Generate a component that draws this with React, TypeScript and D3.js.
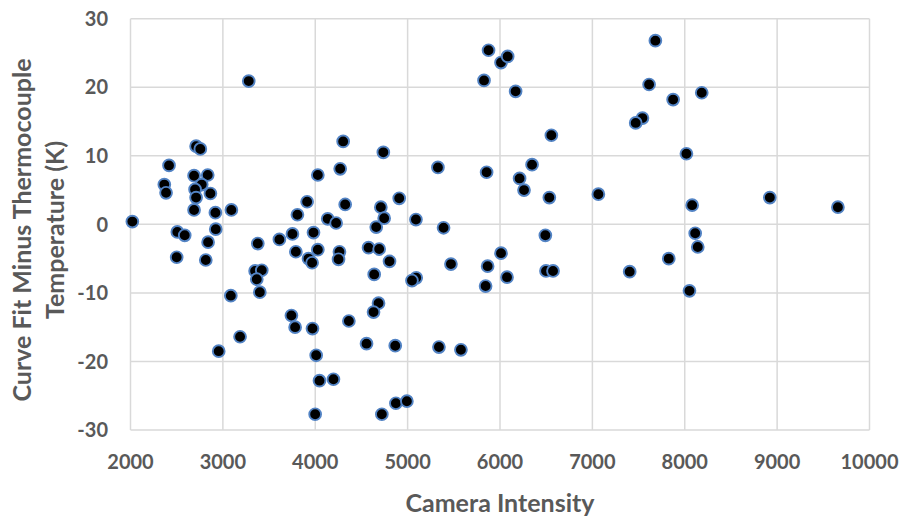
import React from "react";
import * as d3 from "d3";

const intensity: number[] = [
  2020, 3280, 2710, 2756, 2417, 2366, 2385, 2688, 2836, 2771, 2699, 2710, 2865, 2688, 2919, 3092,
  3807, 3912, 4028, 4270, 4302, 4324, 4135, 4226, 4737, 4710,
  2507, 2587, 2923, 2840, 2500, 2815, 3378, 3349, 3421, 3367, 3400, 3086,
  3612, 3753, 3981, 3790, 3927, 4028, 3966, 4262, 4252, 4577, 4638, 4685, 4631,
  3742, 3782, 3970, 4364, 3186, 2955, 4555, 4010, 4046, 4197, 3999,
  5876, 6011, 6083, 5827, 6169, 6556, 5328, 5855, 6347, 6212, 6260, 6534, 7065,
  4909, 4746, 5090, 4660, 5389, 4692, 4804, 5093, 5047, 5469, 6011, 5866, 6076, 5844,
  6491, 6498, 6574, 4866, 5339, 5577, 4721, 4873, 4992,
  7682, 7614, 7874, 8184, 7542, 7469, 8018, 8080, 8921, 9658, 8113, 8141, 7827, 7404, 8051,
];

const tempDiff: number[] = [
  0.4, 20.9, 11.4, 11.0, 8.6, 5.8, 4.6, 7.1, 7.2, 5.8, 5.1, 3.9, 4.5, 2.1, 1.7, 2.1,
  1.4, 3.3, 7.2, 8.1, 12.1, 2.9, 0.8, 0.2, 10.5, 2.5,
  -1.1, -1.6, -0.7, -2.6, -4.8, -5.2, -2.8, -6.8, -6.7, -8.0, -9.9, -10.4,
  -2.2, -1.4, -1.2, -4.0, -5.0, -3.7, -5.6, -4.0, -5.1, -3.4, -7.3, -11.5, -12.8,
  -13.3, -15.0, -15.2, -14.1, -16.4, -18.5, -17.4, -19.1, -22.8, -22.6, -27.7,
  25.4, 23.6, 24.5, 21.0, 19.4, 13.0, 8.3, 7.6, 8.7, 6.7, 5.0, 3.9, 4.4,
  3.8, 0.9, 0.7, -0.4, -0.5, -3.6, -5.4, -7.8, -8.2, -5.8, -4.2, -6.1, -7.7, -9.0,
  -1.6, -6.8, -6.8, -17.7, -17.9, -18.3, -27.7, -26.1, -25.8,
  26.8, 20.4, 18.2, 19.2, 15.5, 14.8, 10.3, 2.8, 3.9, 2.5, -1.3, -3.3, -5.0, -6.9, -9.7,
];

const xTicks: number[] = [2000, 3000, 4000, 5000, 6000, 7000, 8000, 9000, 10000];
const yTicks: number[] = [-30, -20, -10, 0, 10, 20, 30];

const xTitle = "Camera Intensity";
const yTitleLines = ["Curve Fit Minus Thermocouple", "Temperature (K)"];

const W = 904;
const H = 518;
const FONT = "Lato, 'Open Sans', sans-serif";
const TEXT = "#595959";
const GRID = "#d9d9d9";

export default function App() {
  const x = d3.scaleLinear().domain([2000, 10000]).range([130.5, 869.5]);
  const y = d3.scaleLinear().domain([-30, 30]).range([430, 18.7]);
  const data = intensity.map((v, i) => ({ x: v, y: tempDiff[i] }));

  return (
    <svg
      width={W}
      height={H}
      style={{ position: "absolute", left: 0, top: 0, background: "#fff" }}
    >
      <rect width={W} height={H} fill="#fff" />
      {xTicks.map((t) => (
        <line key={"gx" + t} x1={x(t)} x2={x(t)} y1={y(-30)} y2={y(30)} stroke={GRID} strokeWidth={1.5} />
      ))}
      {yTicks.map((t) => (
        <line key={"gy" + t} x1={x(2000)} x2={x(10000)} y1={y(t)} y2={y(t)} stroke={GRID} strokeWidth={1.5} />
      ))}
      {xTicks.map((t) => (
        <text
          key={"tx" + t}
          x={x(t)}
          y={469}
          textAnchor="middle"
          fontFamily={FONT}
          fontWeight={700}
          fontSize={20}
          fill={TEXT}
        >
          {t}
        </text>
      ))}
      {yTicks.map((t) => (
        <text
          key={"ty" + t}
          x={108}
          y={y(t)}
          dy="0.36em"
          textAnchor="end"
          fontFamily={FONT}
          fontWeight={700}
          fontSize={20}
          fill={TEXT}
        >
          {t}
        </text>
      ))}
      {data.map((d, i) => (
        <circle
          key={i}
          cx={x(d.x)}
          cy={y(d.y)}
          r={5.9}
          fill="#000"
          stroke="#5283c4"
          strokeWidth={1.9}
        />
      ))}
      <text
        x={500}
        y={512}
        textAnchor="middle"
        fontFamily={FONT}
        fontWeight={700}
        fontSize={25}
        fill={TEXT}
      >
        {xTitle}
      </text>
      {yTitleLines.map((line, i) => (
        <text
          key={line}
          transform={`translate(${31 + i * 33},230) rotate(-90)`}
          textAnchor="middle"
          fontFamily={FONT}
          fontWeight={700}
          fontSize={25}
          fill={TEXT}
        >
          {line}
        </text>
      ))}
    </svg>
  );
}
